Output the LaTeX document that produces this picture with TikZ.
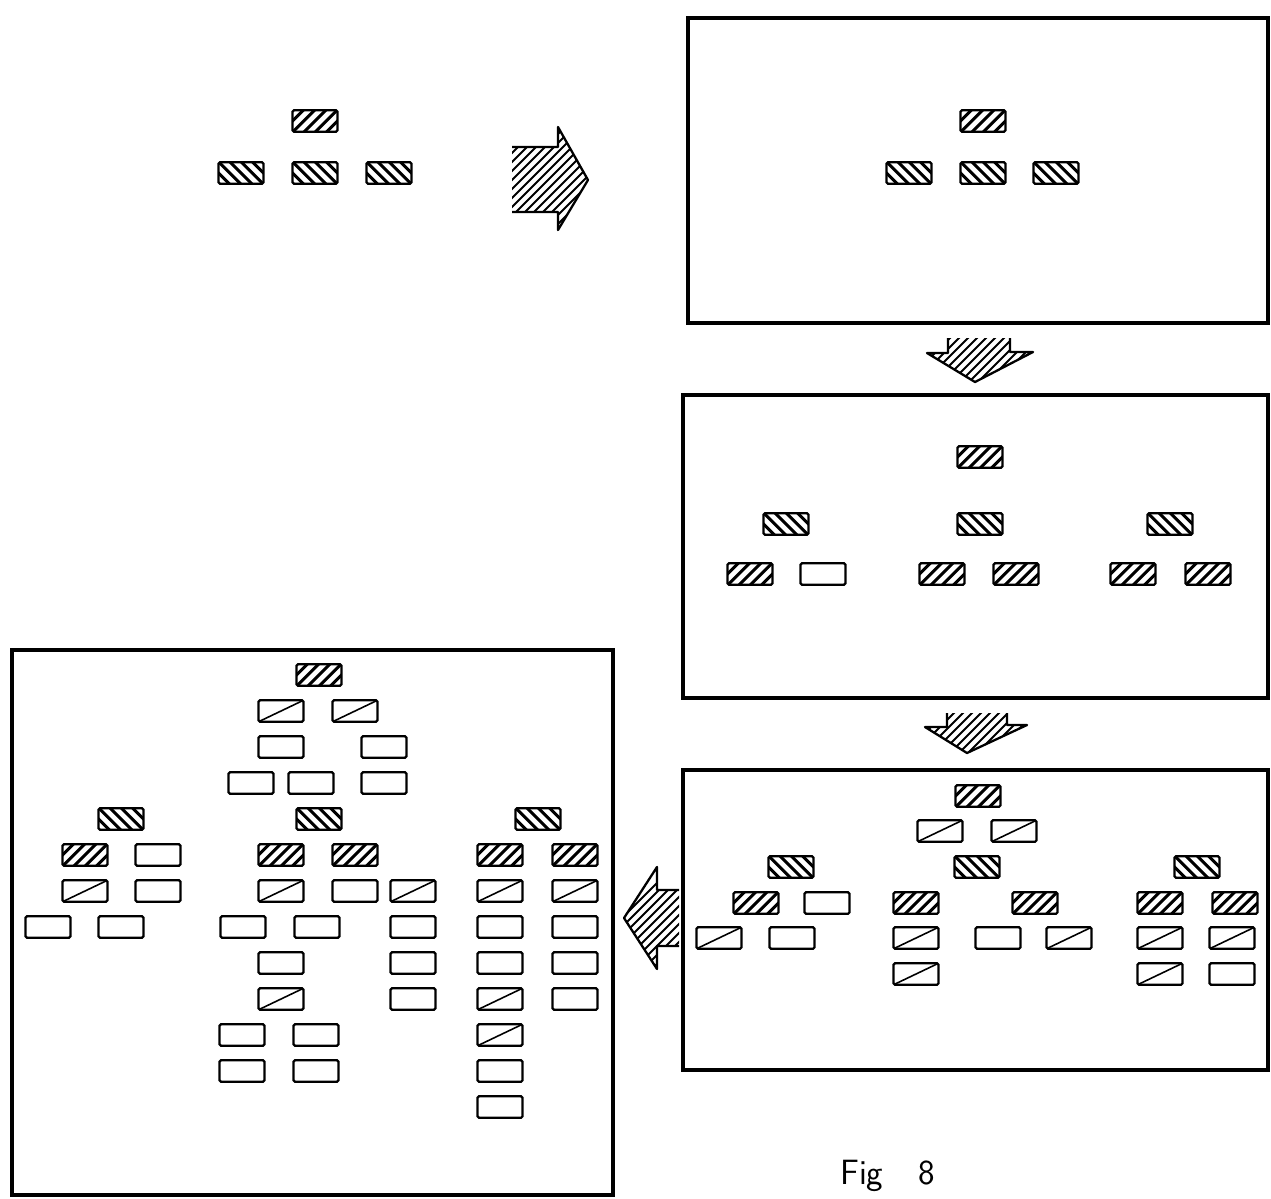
\documentclass[tikz,border=0pt]{standalone}
\usepackage{fontspec}
\begin{document}
\begin{tikzpicture}[x=0.02cm,y=-0.02cm,
  frame/.style={line width=2.4pt},
  boxbase/.style={draw, line width=1.3pt, minimum width=0.9cm, minimum height=0.43cm, inner sep=0pt, rounded corners=0.8pt},
  boxE/.style={boxbase},
  boxD/.style={boxbase, path picture={\draw[line width=0.9pt] (path picture bounding box.south west) -- (path picture bounding box.north east);}},
  boxA/.style={boxbase, path picture={\foreach \k in {-5,...,5}{\draw[line width=1.7pt] ([xshift=\k*6.4pt-10pt,yshift=-10pt]path picture bounding box.center) -- ++(20pt,20pt);}}},
  boxB/.style={boxbase, path picture={\foreach \k in {-5,...,5}{\draw[line width=1.7pt] ([xshift=\k*6.4pt-10pt,yshift=10pt]path picture bounding box.center) -- ++(20pt,-20pt);}}},
  hatchline/.style={line width=1.1pt},
  arrowline/.style={line width=1.3pt, line join=round}
]
\useasboundingbox (0,0) rectangle (1271,1198);
\fill[white] (0,0) rectangle (1271,1198);

% ---------- frames ----------
\draw[frame] (688,18) rectangle (1268,323);
\draw[frame] (683,395) rectangle (1268,698);
\draw[frame] (683,770) rectangle (1268,1070);
\draw[frame] (12,650) rectangle (613,1195);

% ---------- hatched arrows ----------
% right arrow
\begin{scope}
  \clip (512,147) -- (558,147) -- (558,127) -- (588,180) -- (558,230) -- (558,212) -- (512,212) -- cycle;
  \foreach \k in {380,389,...,600} \draw[hatchline] (\k,240) -- ++(120,-120);
\end{scope}
\draw[arrowline] (512,147) -- (558,147) -- (558,127) -- (588,180) -- (558,230) -- (558,212) -- (512,212);
% down arrow 1
\begin{scope}
  \clip (948,338) -- (1010,338) -- (1010,352) -- (1033,352) -- (975,382) -- (927,353) -- (948,353) -- cycle;
  \foreach \k in {880,889,...,1060} \draw[hatchline] (\k,390) -- ++(60,-60);
\end{scope}
\draw[arrowline] (948,338) -- (948,353) -- (927,353) -- (975,382) -- (1033,352) -- (1010,352) -- (1010,338);
% down arrow 2
\begin{scope}
  \clip (947,713) -- (1007,713) -- (1007,725) -- (1027,725) -- (967,753) -- (925,727) -- (947,727) -- cycle;
  \foreach \k in {880,889,...,1060} \draw[hatchline] (\k,760) -- ++(55,-55);
\end{scope}
\draw[arrowline] (947,713) -- (947,727) -- (925,727) -- (967,753) -- (1027,725) -- (1007,725) -- (1007,713);
% left arrow
\begin{scope}
  \clip (679,890) -- (657,890) -- (657,867) -- (624,918) -- (657,969) -- (657,946) -- (679,946) -- cycle;
  \foreach \k in {560,569,...,700} \draw[hatchline] (\k,980) -- ++(110,-110);
\end{scope}
\draw[arrowline] (679,890) -- (657,890) -- (657,867) -- (624,918) -- (657,969) -- (657,946) -- (679,946);

% ---------- stage 0 (no frame) ----------
\node[boxA] (t0) at (315,121) {};
\node[boxB] (t1) at (241,173) {};
\node[boxB] (t2) at (315,173) {};
\node[boxB] (t3) at (389,173) {};

% ---------- stage 1 (top right) ----------
\node[boxA] (a0) at (983,121) {};
\node[boxB] (a1) at (909,173) {};
\node[boxB] (a2) at (983,173) {};
\node[boxB] (a3) at (1056,173) {};

% ---------- stage 2 (middle right) ----------
\node[boxA] (b0) at (980,457) {};
\node[boxB] (b1) at (786,524) {};
\node[boxB] (b2) at (980,524) {};
\node[boxB] (b3) at (1170,524) {};
\node[boxA] (b11) at (750,574) {};
\node[boxE] (b12) at (823,574) {};
\node[boxA] (b21) at (942,574) {};
\node[boxA] (b22) at (1016,574) {};
\node[boxA] (b31) at (1133,574) {};
\node[boxA] (b32) at (1208,574) {};

% ---------- stage 3 (bottom right) ----------
\node[boxA] (c0) at (978,796) {};
\node[boxD] (c01) at (940,831) {};
\node[boxD] (c02) at (1014,831) {};
\node[boxB] (c1) at (791,867) {};
\node[boxB] (c2) at (977,867) {};
\node[boxB] (c3) at (1197,867) {};
\node[boxA] (c11) at (756,903) {};
\node[boxE] (c12) at (827,903) {};
\node[boxA] (c21) at (916,903) {};
\node[boxA] (c22) at (1035,903) {};
\node[boxA] (c31) at (1160,903) {};
\node[boxA] (c32) at (1235,903) {};
\node[boxD] (c111) at (719,938) {};
\node[boxE] (c121) at (792,938) {};
\node[boxD] (c211) at (916,938) {};
\node[boxE] (c221) at (998,938) {};
\node[boxD] (c222) at (1069,938) {};
\node[boxD] (c311) at (1160,938) {};
\node[boxD] (c321) at (1232,938) {};
\node[boxD] (c212) at (916,974) {};
\node[boxD] (c312) at (1160,974) {};
\node[boxE] (c322) at (1232,974) {};

% ---------- stage 4 (bottom left) ----------
\node[boxA] (d0) at (319,675) {};
\node[boxD] (d01) at (281,711) {};
\node[boxD] (d02) at (355,711) {};
\node[boxE] (d03) at (281,747) {};
\node[boxE] (d04) at (384,747) {};
\node[boxE] (d05) at (251,783) {};
\node[boxE] (d06) at (311,783) {};
\node[boxE] (d07) at (384,783) {};
\node[boxB] (d1) at (121,819) {};
\node[boxB] (d2) at (319,819) {};
\node[boxB] (d3) at (538,819) {};
\node[boxA] (d11) at (85,855) {};
\node[boxE] (d12) at (158,855) {};
\node[boxA] (d21) at (281,855) {};
\node[boxA] (d22) at (355,855) {};
\node[boxA] (d31) at (500,855) {};
\node[boxA] (d32) at (575,855) {};
\node[boxD] (d111) at (85,891) {};
\node[boxE] (d121) at (158,891) {};
\node[boxD] (d211) at (281,891) {};
\node[boxE] (d221) at (355,891) {};
\node[boxD] (d222) at (413,891) {};
\node[boxD] (d311) at (500,891) {};
\node[boxD] (d321) at (575,891) {};
\node[boxE] (d112) at (48,927) {};
\node[boxE] (d122) at (121,927) {};
\node[boxE] (d212) at (243,927) {};
\node[boxE] (d213) at (317,927) {};
\node[boxE] (d223) at (413,927) {};
\node[boxE] (d312) at (500,927) {};
\node[boxE] (d322) at (575,927) {};
\node[boxE] (d214) at (281,963) {};
\node[boxE] (d224) at (413,963) {};
\node[boxE] (d313) at (500,963) {};
\node[boxE] (d323) at (575,963) {};
\node[boxD] (d215) at (281,999) {};
\node[boxE] (d225) at (413,999) {};
\node[boxD] (d314) at (500,999) {};
\node[boxE] (d324) at (575,999) {};
\node[boxE] (d216) at (242,1035) {};
\node[boxE] (d217) at (316,1035) {};
\node[boxD] (d315) at (500,1035) {};
\node[boxE] (d218) at (242,1071) {};
\node[boxE] (d219) at (316,1071) {};
\node[boxE] (d316) at (500,1071) {};
\node[boxE] (d317) at (500,1107) {};

% ---------- caption ----------
\node[font=\sffamily\fontsize{20}{20}\selectfont, anchor=base west, inner sep=0pt] (cap) at (840,1184) {Fig\hspace{20pt}8};
\end{tikzpicture}
\end{document}
